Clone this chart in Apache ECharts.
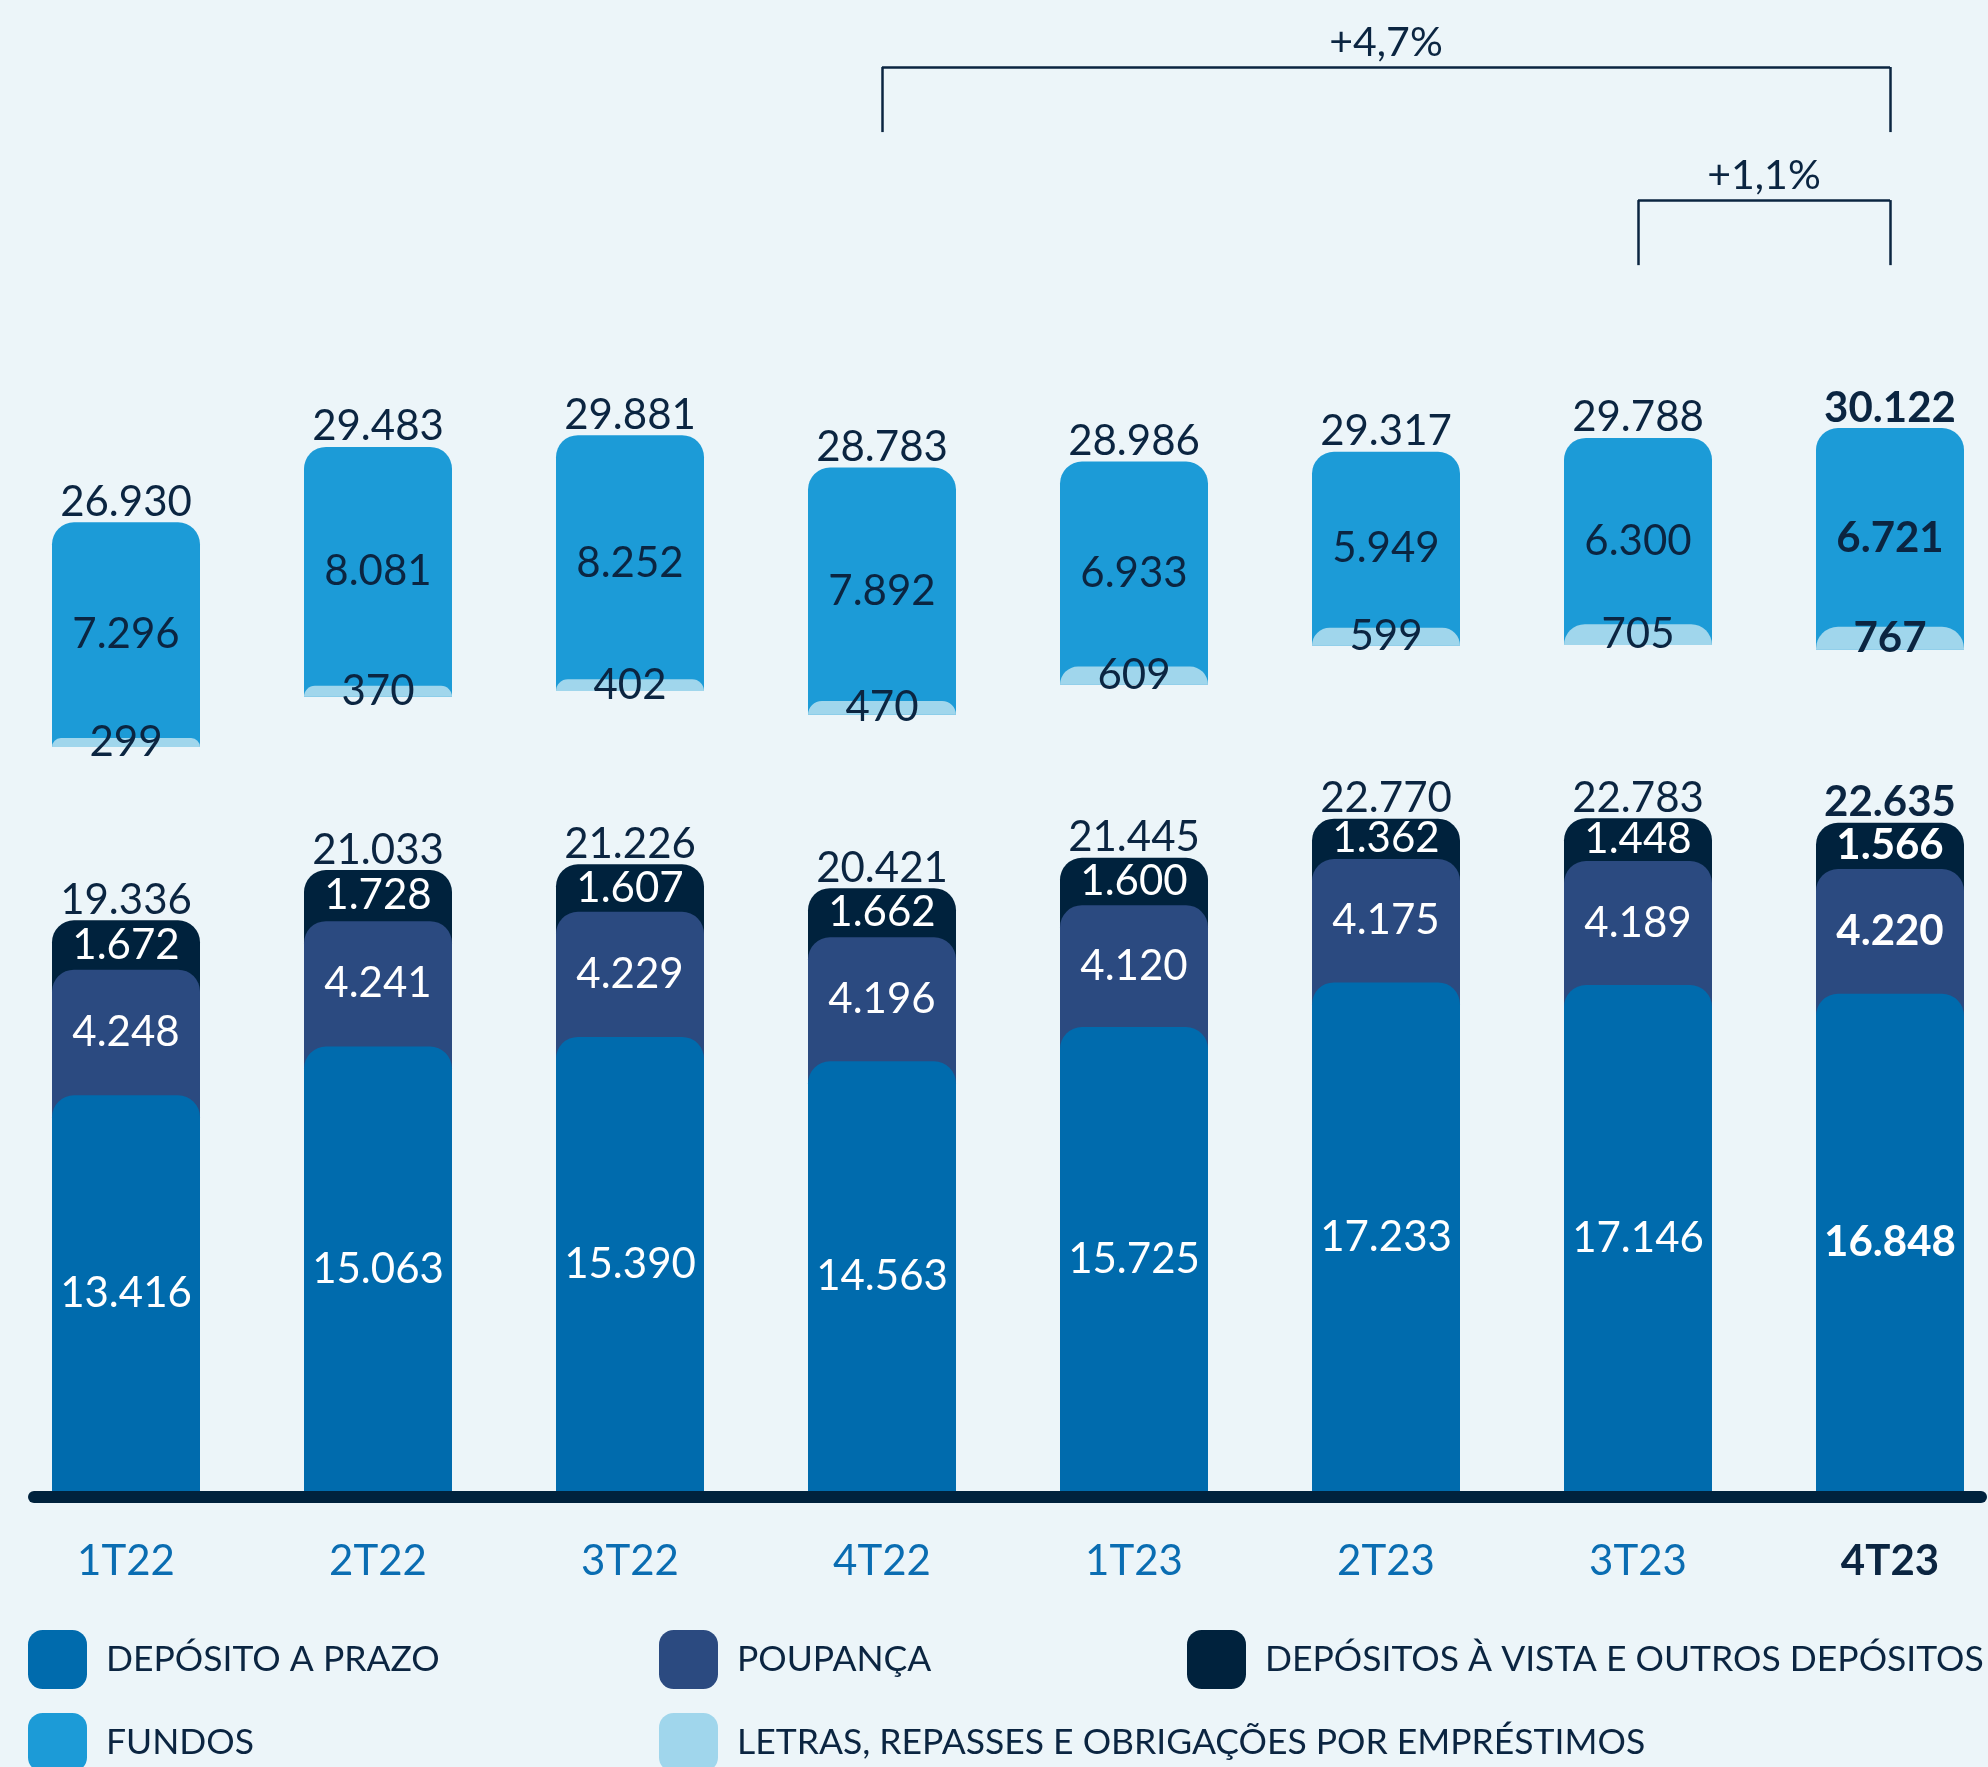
<!DOCTYPE html>
<html>
<head>
<meta charset="utf-8">
<script src="https://cdn.jsdelivr.net/npm/echarts@6/dist/echarts.min.js"></script>
<style>
  html, body { margin: 0; padding: 0; background: #ecf5f9; }
  #chart { width: 1988px; height: 1767px; }
</style>
</head>
<body>
<div id="chart"></div>
<script>
// categorias (trimestres)
var categories = ["1T22", "2T22", "3T22", "4T22", "1T23", "2T23", "3T23", "4T23"];

// bloco inferior
var prazo = [13416, 15063, 15390, 14563, 15725, 17233, 17146, 16848];
var poupanca = [4248, 4241, 4229, 4196, 4120, 4175, 4189, 4220];
var vista = [1672, 1728, 1607, 1662, 1600, 1362, 1448, 1566];
var totalInferior = [19336, 21033, 21226, 20421, 21445, 22770, 22783, 22635];

// bloco superior (flutuante)
var letras = [299, 370, 402, 470, 609, 599, 705, 767];
var fundos = [7296, 8081, 8252, 7892, 6933, 5949, 6300, 6721];
var totalGeral = [26930, 29483, 29881, 28783, 28986, 29317, 29788, 30122];

// espaço vazio entre os dois blocos
var espaco = [5860, 5860, 5860, 5860, 5860, 5860, 5860, 5860];

// variações (colchetes no topo)
var variacoes = [
  { from: "4T22", to: "4T23", text: "+4,7%", top: 48190, bottom: 45990 },
  { from: "3T23", to: "4T23", text: "+1,1%", top: 43690, bottom: 41490 }
];

var colors = {
  prazo: "#006bad",
  poupanca: "#2b4a80",
  vista: "#00223d",
  fundos: "#1c9bd7",
  letras: "#a0d6ec",
  dark: "#0b2541",
  axis: "#0a6db2",
  white: "#ffffff",
  bg: "#ecf5f9"
};

var FONT = "Lato";
var last = categories.length - 1;
var NAMES = {
  prazo: "DEPÓSITO A PRAZO",
  poupanca: "POUPANÇA",
  vista: "DEPÓSITOS À VISTA E OUTROS DEPÓSITOS",
  fundos: "FUNDOS",
  letras: "LETRAS, REPASSES E OBRIGAÇÕES POR EMPRÉSTIMOS"
};

function fmt(v) {
  return String(v).replace(/\B(?=(\d{3})+(?!\d))/g, ".");
}

// label com o último trimestre em negrito
function label(color, values, position) {
  return {
    show: true,
    position: position || "inside",
    distance: position ? -1 : 2,
    formatter: function (p) {
      var t = fmt(values[p.dataIndex]);
      return p.dataIndex === last ? "{b|" + t + "}" : "{n|" + t + "}";
    },
    rich: {
      n: { fontFamily: FONT, fontSize: 42, color: color },
      b: { fontFamily: FONT, fontSize: 42, fontWeight: "bold", color: color }
    }
  };
}

var clear = { color: "rgba(0,0,0,0)" };
var radius = [22, 22, 0, 0];

var base = [], lowerSum = [], prazoPoup = [], upperSum = [], topPos = [];
for (var i = 0; i < categories.length; i++) {
  lowerSum.push(prazo[i] + poupanca[i] + vista[i]);
  prazoPoup.push(prazo[i] + poupanca[i]);
  base.push(lowerSum[i] + espaco[i]);
  upperSum.push(letras[i] + fundos[i]);
  topPos.push(base[i] + upperSum[i]);
}

var markLineData = [];
variacoes.forEach(function (v) {
  markLineData.push([{ coord: [v.from, v.bottom] }, { coord: [v.from, v.top] }]);
  markLineData.push([
    { coord: [v.from, v.top], label: { show: true, formatter: v.text } },
    { coord: [v.to, v.top] }
  ]);
  markLineData.push([{ coord: [v.to, v.top] }, { coord: [v.to, v.bottom] }]);
});

var barCommon = {
  type: "bar",
  barWidth: 148,
  barGap: "-100%",
  emphasis: { disabled: true },
  silent: true
};

function bar(opts) {
  return Object.assign({}, barCommon, opts);
}

// uma legenda por item, em grade de 3 colunas
var legendPos = [
  [NAMES.prazo, 28, 1630],
  [NAMES.poupanca, 659, 1630],
  [NAMES.vista, 1187, 1630],
  [NAMES.fundos, 28, 1713],
  [NAMES.letras, 659, 1713]
];

var chart = echarts.init(document.getElementById("chart"));
var option = {
  backgroundColor: colors.bg,
  animation: false,
  grid: { left: 0, width: 2016, top: 13.5, height: 1478.5, outerBoundsMode: "none", containLabel: false },
  xAxis: {
    type: "category",
    data: categories,
    axisLine: { show: false },
    axisTick: { show: false },
    axisLabel: {
      margin: 48,
      formatter: function (v, idx) {
        return idx === last ? "{b|" + v + "}" : "{n|" + v + "}";
      },
      rich: {
        n: { fontFamily: FONT, fontSize: 42, color: colors.axis },
        b: { fontFamily: FONT, fontSize: 42, fontWeight: "bold", color: colors.dark }
      }
    }
  },
  yAxis: { type: "value", min: 0, max: 50000, show: false, splitLine: { show: false } },
  legend: legendPos.map(function (l) {
    return {
      data: [l[0]],
      left: l[1],
      top: l[2],
      icon: "roundRect",
      itemWidth: 59,
      itemHeight: 59,
      selectedMode: false,
      padding: 0,
      textStyle: { fontFamily: FONT, fontSize: 35.5, color: colors.dark, padding: [0, 0, 0, 14] }
    };
  }),
  graphic: [
    {
      type: "line",
      shape: { x1: 34, y1: 1497, x2: 1981, y2: 1497 },
      style: { stroke: colors.vista, lineWidth: 12, lineCap: "round" },
      z: 10
    }
  ],
  series: [
    // bloco superior: fundos (inclui letras por baixo)
    bar({ name: "uBase", stack: "u", data: base, itemStyle: clear }),
    bar({
      name: NAMES.fundos, stack: "u", data: upperSum,
      itemStyle: { color: colors.fundos, borderRadius: radius },
      label: label(colors.dark, fundos)
    }),
    bar({ name: "lBase", stack: "l", data: base, itemStyle: clear }),
    bar({
      name: NAMES.letras, stack: "l", data: letras,
      itemStyle: { color: colors.letras, borderRadius: radius },
      label: label(colors.dark, letras)
    }),
    // bloco inferior, sobreposto para os cantos arredondados
    bar({ name: NAMES.vista, data: lowerSum, itemStyle: { color: colors.vista, borderRadius: radius } }),
    bar({ name: NAMES.poupanca, data: prazoPoup, itemStyle: { color: colors.poupanca, borderRadius: radius } }),
    bar({
      name: NAMES.prazo, data: prazo,
      itemStyle: { color: colors.prazo, borderRadius: radius },
      label: label(colors.white, prazo)
    }),
    // labels de poupança e à vista
    bar({ name: "labA", stack: "lab", data: prazo, itemStyle: clear, z: 5 }),
    bar({ name: "labB", stack: "lab", data: poupanca, itemStyle: clear, z: 5, label: label(colors.white, poupanca) }),
    bar({ name: "labC", stack: "lab", data: vista, itemStyle: clear, z: 5, label: label(colors.white, vista) }),
    // totais
    {
      name: "totInf", type: "scatter", data: lowerSum, symbolSize: 0, silent: true, z: 5,
      itemStyle: { color: "rgba(0,0,0,0)", opacity: 1 },
      label: label(colors.dark, totalInferior, "top")
    },
    {
      name: "totGeral", type: "scatter", data: topPos, symbolSize: 0, silent: true, z: 5,
      itemStyle: { color: "rgba(0,0,0,0)", opacity: 1 },
      label: label(colors.dark, totalGeral, "top"),
      markLine: {
        silent: true,
        symbol: "none",
        animation: false,
        lineStyle: { color: colors.dark, width: 2.5, type: "solid", opacity: 1 },
        label: {
          show: false,
          position: "insideMiddleTop",
          distance: 4,
          fontFamily: FONT,
          fontSize: 41,
          color: colors.dark
        },
        emphasis: { disabled: true },
        data: markLineData
      }
    }
  ]
};
chart.setOption(option);
</script>
</body>
</html>
